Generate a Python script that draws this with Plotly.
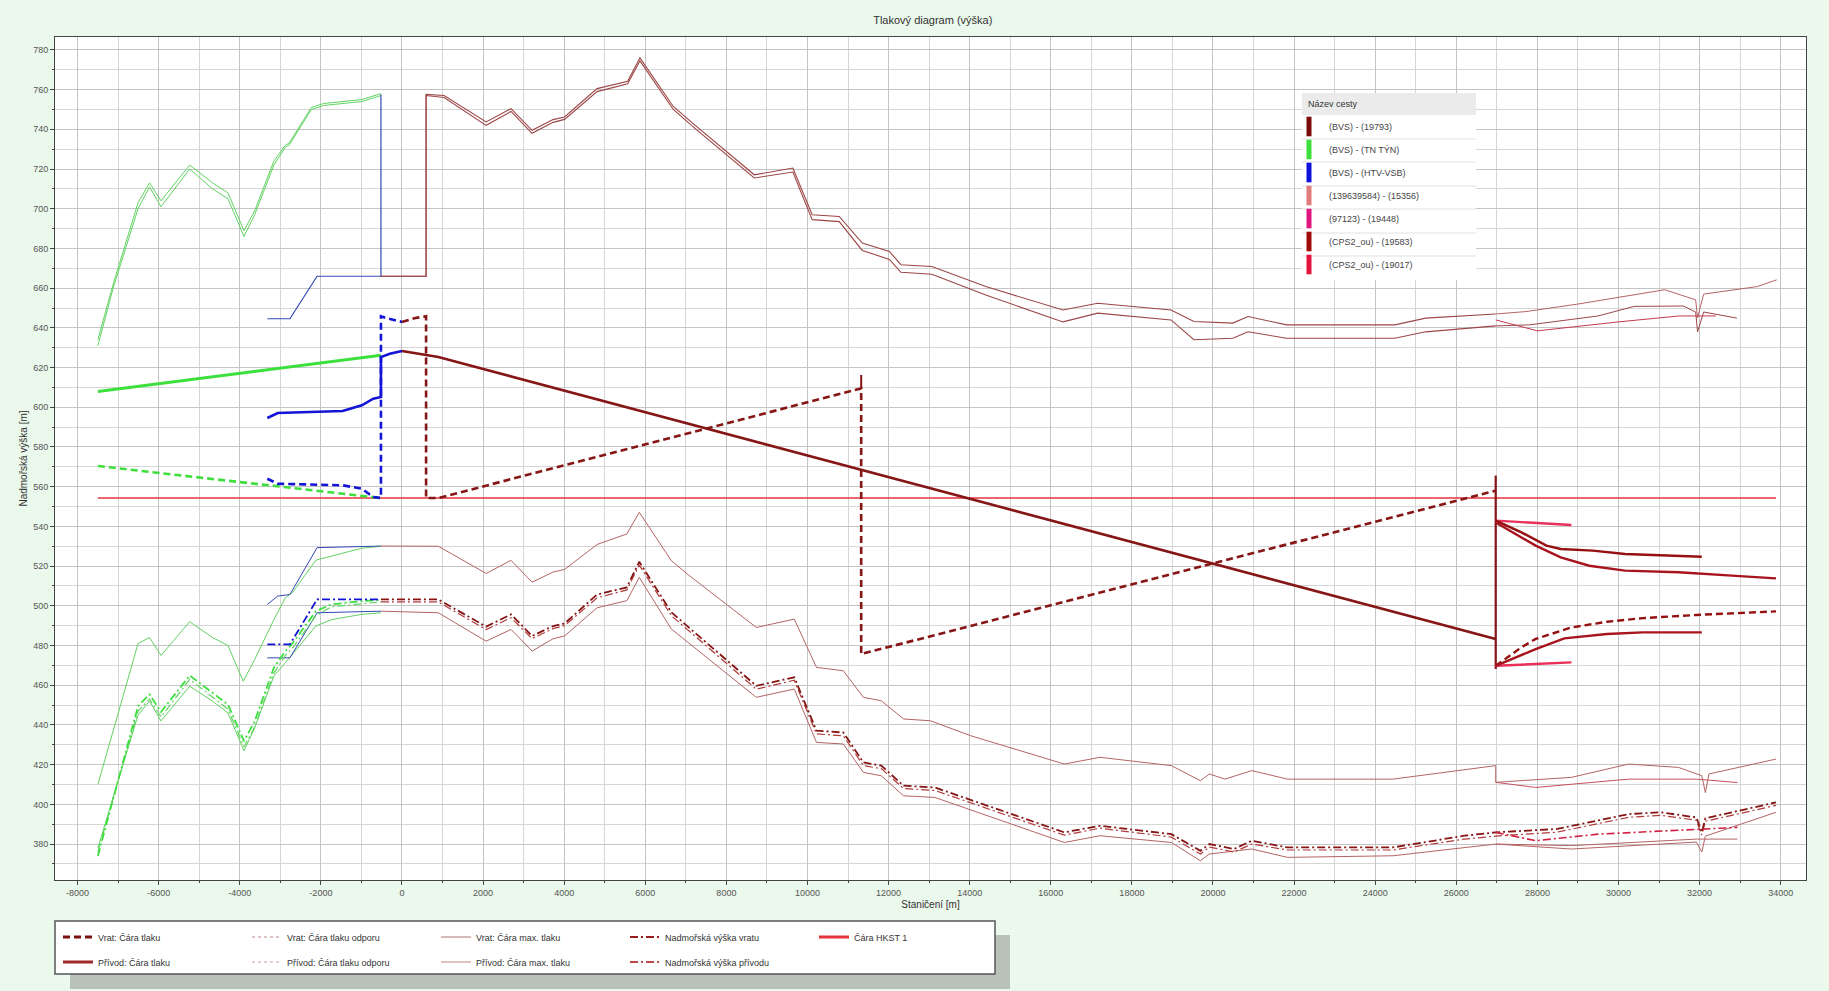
import plotly.graph_objects as go

# ---------------- data ----------------
X_TICK_VALS = [-8000, -6000, -4000, -2000, 0, 2000, 4000, 6000, 8000, 10000, 12000, 14000, 16000,
               18000, 20000, 22000, 24000, 26000, 28000, 30000, 32000, 34000]
X_TICK_TEXT = ['-8000', '-6000', '-4000', '-2000', '0', '2000', '4000', '6000', '8000', '10000', '12000',
               '14000', '16000', '18000', '20000', '22000', '24000', '26000', '28000', '30000', '32000', '34000']

ROUTE_TITLE = 'Název cesty'
ROUTE_NAMES = ['(BVS) - (19793)', '(BVS) - (TN TÝN)', '(BVS) - (HTV-VSB)', '(139639584) - (15356)',
               '(97123) - (19448)', '(CPS2_ou) - (19583)', '(CPS2_ou) - (19017)']
ROUTE_COLORS = ['#7d0a0a', '#3ddf3d', '#1010dd', '#e27b7b', '#e0157f', '#a00a0a', '#e3143c']

STYLE_ROW1 = ['Vrat: Čára tlaku', 'Vrat: Čára tlaku odporu', 'Vrat: Čára max. tlaku',
              'Nadmořská výška vratu', 'Čára HKST 1']
STYLE_ROW2 = ['Přívod: Čára tlaku', 'Přívod: Čára tlaku odporu', 'Přívod: Čára max. tlaku',
              'Nadmořská výška přívodu']

# HKST line
HKST_X = [-7500, 33884]
HKST_Y = [554.3, 554.3]

# (BVS) - (TN TÝN)  green
TN_MAX_X = [-7500, -7123, -6509, -6226, -5943, -5236, -4670, -4292, -3896, -3632, -3160, -2877, -2783,
            -2236, -1934, -991, -519]
TN_MAX_VRAT_Y = [634, 662, 703, 713, 704, 722, 713, 708, 689, 699, 724, 732, 733, 751, 753, 755, 758]
TN_MAX_PRIVOD_Y = [631, 660, 700, 711, 701, 720, 710, 705, 686, 697, 722, 731, 732, 750, 752, 754, 757]
TN_TLAK_PRIVOD_X = [-7500, -519]
TN_TLAK_PRIVOD_Y = [608, 626.2]
TN_TLAK_VRAT_X = [-7500, -708, -519]
TN_TLAK_VRAT_Y = [570.4, 554.8, 554.3]
TN_ODPOR_X = [-7500, -6509, -6226, -5943, -5236, -4670, -4292, -3915, -3632, -3160, -2877, -2689,
              -2123, -991, -519]
TN_ODPOR_VRAT_Y = [410, 481, 484, 475, 492, 484, 480, 462, 473, 493, 504, 507, 523, 529, 530]
TN_ELEV_X = [-7500, -6509, -6226, -5943, -5236, -4670, -4292, -3896, -3632, -3160, -2877, -2689,
             -2123, -1745, -991, -519]
TN_ELEV_VRAT_Y = [374, 449.5, 455.4, 446.5, 464.9, 456.2, 450.3, 431.9, 441.9, 468.8, 477.2, 481.4,
                  497.3, 500.7, 502.4, 502.9]
TN_ELEV_PRIVOD_Y = [376, 447, 453, 444, 463, 454, 448, 429, 439, 466, 475, 479, 495, 499.5, 501, 502]
TN_ODPOR_PRIVOD_Y = [378, 445, 452, 442, 459.5, 452, 446, 427, 438.6, 464.6, 471.3, 476, 489.8, 493,
                     495.7, 496.5]

# (BVS) - (HTV-VSB)  blue
HTV_MAX_X = [-3321, -2764, -2094, -519, -519]
HTV_MAX_Y = [644.6, 644.6, 666, 666, 757.6]
HTV_TLAK_PRIVOD_X = [-3321, -3066, -1462, -991, -708, -538, -519, -519, -300, 0]
HTV_TLAK_PRIVOD_Y = [594.6, 597.1, 598.1, 601, 604.3, 605.2, 605.2, 625.3, 627, 628.3]
HTV_TLAK_VRAT_X = [-3321, -3066, -1462, -991, -708, -538, -519, -519, -330, 0]
HTV_TLAK_VRAT_Y = [564, 561.5, 560.7, 559, 554.8, 554.3, 554.3, 645.8, 644.6, 643]
HTV_ODPOR_X = [-3321, -3066, -2764, -2094, -519]
HTV_ODPOR_VRAT_Y = [500.7, 504.9, 505.7, 529.3, 530.1]
HTV_ELEV_X = [-3321, -2764, -2094, -519]
HTV_ELEV_Y = [480.6, 480.6, 503.2, 503.2]
HTV_ODPOR_PRIVOD_Y = [473.8, 473.8, 496.5, 497.3]

# (BVS) - (19793)  dark red
R_MAX_X = [-519, 594, 594, 1038, 2075, 2689, 3208, 3726, 4009, 4811, 5566, 5868, 6690, 7166, 8688, 9640,
           10116, 10782, 11352, 12020, 12304, 13066, 14397, 16301, 17156, 18965, 19530, 20487, 20866,
           21816, 24484, 25243, 26972]
R_MAX_VRAT_Y = [666, 666, 757.6, 757, 743.7, 750.4, 739.5, 744.9, 746.2, 760.5, 764.2, 776, 751.5, 743.1,
                717.1, 720.5, 697, 696.1, 682.7, 678.5, 671.8, 670.9, 660.8, 649, 652.4, 649, 643.2,
                642.4, 645.7, 641.5, 641.5, 644.9, 647]
R_MAX_PRIVOD_Y = [666, 666, 757, 756, 742, 749, 738, 743.5, 745, 759, 763, 774.5, 750, 741.5, 715.5,
                  718.5, 694.5, 693.5, 679, 674.5, 668, 667, 656.5, 643, 647.4, 644, 634, 634.8, 638,
                  634.8, 634.8, 638, 641]
R_TLAK_PRIVOD_X = [0, 896, 26972]
R_TLAK_PRIVOD_Y = [628.3, 625.3, 483.3]
R_TLAK_VRAT_X = [0, 330, 594, 594, 896, 11324, 11324, 26972]
R_TLAK_VRAT_Y = [643, 645, 645.8, 554.3, 554.3, 609.5, 475.7, 558]
R_TICK_X = [11324, 11324]
R_TICK_Y = [616.3, 609.5]
JUNCTION_X = [26972, 26972]
JUNCTION_Y = [565.6, 468.2]
R_ODPOR_X = [-519, 896, 2075, 2689, 3208, 3726, 4009, 4811, 5544, 5852, 6644, 7086, 8738, 9673, 10222,
             10883, 11379, 11820, 12370, 13031, 14020, 16333, 17213, 18974, 19690, 19911, 20296, 20957,
             21837, 24436, 26972, 26972, 28838, 30250, 31482, 32054, 32143, 32230, 33884]
R_ODPOR_VRAT_Y = [530.1, 530, 516.3, 522.9, 511.9, 517, 518.3, 530.9, 536.2, 547.1, 522.7, 515.2, 489.1,
                  493.3, 469, 467.3, 453.9, 452.2, 443, 442.1, 434.6, 420.3, 423.7, 419.5, 411.9, 415.3,
                  412.7, 417, 412.7, 412.7, 419.5, 411.1, 413.6, 420.3, 418.6, 414.4, 405.9, 415.3, 422.8]
R_ELEV_X = [-519, 896, 2075, 2689, 3208, 3726, 4009, 4811, 5544, 5852, 6644, 8738, 9673, 10222, 10883,
            11379, 11820, 12370, 13141, 16333, 17213, 18974, 19690, 19911, 20516, 20957, 21837, 24436,
            26197, 26972, 28485, 30250, 31042, 31921, 32054, 32143, 33884]
R_ELEV_VRAT_Y = [503.2, 503.2, 489.5, 495.7, 484.8, 489.8, 491.1, 505.7, 509.3, 522.2, 496.7, 459.7, 464,
                 437.1, 436.2, 421.1, 419.5, 409.4, 408.5, 385.9, 389.2, 385, 376.6, 380, 377.5, 381.7,
                 378.3, 378.3, 384.2, 385.9, 387.6, 395.1, 396, 393.4, 385.9, 393, 401]
R_ELEV_PRIVOD_Y = [502, 502, 488, 494, 483.5, 488.5, 490, 504, 508, 520.5, 495, 458, 462.5, 435.5, 434.5,
                   419.5, 418, 408, 407, 384.5, 388, 383.5, 375, 378.5, 376, 380, 377, 377, 382.5, 384,
                   386, 393.5, 394.5, 392, 384.5, 391.5, 399.5]
R_ODPOR_PRIVOD_X = [-519, 896, 2075, 2689, 3208, 3726, 4009, 4811, 5544, 5852, 6644, 8738, 9673, 10222,
                    10883, 11379, 11820, 12370, 13141, 16333, 17213, 18974, 19690, 19911, 20957, 21837,
                    24436, 26972, 28838, 31921, 32933]
R_ODPOR_PRIVOD_Y = [497.3, 496.5, 482.2, 488.1, 477.2, 483.4, 484.8, 499, 502.6, 514.3, 488.3, 453.9,
                    458.1, 431.2, 430.4, 416.1, 414.4, 404.3, 403.5, 380.8, 384.2, 380.8, 371.6, 375,
                    377.5, 373.3, 374.1, 380, 379.2, 382.5, 382.5]

# branches after the junction (CPS2_ou, 97123 ...)
BR_MAX1_X = [26972, 27717, 29000, 30383, 31142, 31903, 31950, 32100, 33425, 33902]
BR_MAX1_Y = [647, 648.2, 652, 656.6, 659.2, 654.1, 645, 657, 660.8, 664.2]
BR_MAX2_X = [26972, 27800, 29500, 30383, 31600, 31903, 31950, 32100, 32921]
BR_MAX2_Y = [641, 641.5, 646, 650.8, 651, 648, 638, 648, 644.9]
BR_MAX3_X = [26972, 28000, 30000, 31500, 32400]
BR_MAX3_Y = [644, 638.5, 643, 646, 646]
BR_ODPOR_X = [26972, 27958, 30250, 31921, 32933]
BR_ODPOR_Y = [411.1, 408.5, 412.7, 412.7, 411]
BR_ELEV_X = [26972, 27958, 29500, 31921, 32933]
BR_ELEV_Y = [385.9, 381.7, 385, 387.6, 388.4]
BR_LOW_X = [26972, 28838, 31921, 32054, 32143, 33884]
BR_LOW_Y = [380, 377.5, 381, 376, 384, 396]

BUP_SHORT_X = [26972, 28838]
BUP_SHORT_Y = [542.9, 540.7]
BUP1_X = [26972, 27606, 28223, 28575, 29368, 30160, 32054]
BUP1_Y = [542.9, 537, 530.3, 528.6, 527.8, 526.1, 524.7]
BUP2_X = [26972, 27519, 27958, 28575, 29280, 30160, 31482, 32800, 33884]
BUP2_Y = [542, 535.4, 530.3, 524.4, 520.2, 517.7, 516.9, 515.2, 513.8]
BLO_SHORT_X = [26972, 28838]
BLO_SHORT_Y = [469.8, 471.5]
BLO1_X = [26972, 27606, 27958, 28838, 29718, 30602, 31921, 33884]
BLO1_Y = [469.8, 479.1, 483.3, 489.1, 492, 493.8, 495.4, 497.2]
BLO2_X = [26972, 27958, 28663, 29718, 30602, 32054]
BLO2_Y = [469.8, 478.2, 483.6, 485.8, 486.6, 486.6]

# ---------------- styles ----------------
DARK = '#861515'
DARK_T = '#9c4646'
ROSY_T = '#b46464'
GREEN = '#3ddf3d'
GREEN_T = '#62d262'
BLUE = '#1414d6'
BLUE_T = '#3448b4'
HKST = '#e4343c'
DASH = '7px,4px'
DASHDOT = '8px,3px,2px,3px'
FONT = 'Liberation Sans'

fig = go.Figure()


def line(x, y, color, width, dash='solid'):
    fig.add_trace(go.Scatter(x=x, y=y, mode='lines', line=dict(color=color, width=width, dash=dash),
                             showlegend=False, hoverinfo='skip'))


# thin lines
line(TN_MAX_X, TN_MAX_VRAT_Y, GREEN_T, 1)
line(TN_MAX_X, TN_MAX_PRIVOD_Y, GREEN_T, 1)
line(TN_ODPOR_X, TN_ODPOR_VRAT_Y, GREEN_T, 1)
line(TN_ELEV_X, TN_ODPOR_PRIVOD_Y, GREEN_T, 1)
line(HTV_MAX_X, HTV_MAX_Y, BLUE_T, 1.2)
line(HTV_ODPOR_X, HTV_ODPOR_VRAT_Y, BLUE_T, 1)
line(HTV_ELEV_X, HTV_ODPOR_PRIVOD_Y, BLUE_T, 1)
line(R_MAX_X, R_MAX_VRAT_Y, DARK_T, 1.1)
line(R_MAX_X, R_MAX_PRIVOD_Y, DARK_T, 1.1)
line(BR_MAX1_X, BR_MAX1_Y, ROSY_T, 1)
line(BR_MAX2_X, BR_MAX2_Y, DARK_T, 1)
line(BR_MAX3_X, BR_MAX3_Y, '#c43a50', 1)
line(R_ODPOR_X, R_ODPOR_VRAT_Y, ROSY_T, 1)
line(R_ODPOR_PRIVOD_X, R_ODPOR_PRIVOD_Y, ROSY_T, 1)
line(BR_ODPOR_X, BR_ODPOR_Y, '#c45060', 1)
line(BR_LOW_X, BR_LOW_Y, ROSY_T, 1)

# elevation (dash-dot)
line(TN_ELEV_X, TN_ELEV_PRIVOD_Y, GREEN_T, 1.2, DASHDOT)
line(TN_ELEV_X, TN_ELEV_VRAT_Y, GREEN, 1.8, DASHDOT)
line(HTV_ELEV_X, HTV_ELEV_Y, BLUE, 1.8, DASHDOT)
line(R_ELEV_X, R_ELEV_PRIVOD_Y, '#b03a3a', 1.2, DASHDOT)
line(R_ELEV_X, R_ELEV_VRAT_Y, DARK, 1.8, DASHDOT)
line(BR_ELEV_X, BR_ELEV_Y, '#d02040', 1.6, DASHDOT)

# HKST
line(HKST_X, HKST_Y, HKST, 1.7)

# pressure lines
line(TN_TLAK_PRIVOD_X, TN_TLAK_PRIVOD_Y, GREEN, 3)
line(TN_TLAK_VRAT_X, TN_TLAK_VRAT_Y, GREEN, 2.6, DASH)
line(HTV_TLAK_PRIVOD_X, HTV_TLAK_PRIVOD_Y, BLUE, 2.6)
line(HTV_TLAK_VRAT_X, HTV_TLAK_VRAT_Y, BLUE, 2.6, DASH)
line(R_TLAK_PRIVOD_X, R_TLAK_PRIVOD_Y, DARK, 2.6)
line(R_TLAK_VRAT_X, R_TLAK_VRAT_Y, DARK, 2.6, DASH)
line(R_TICK_X, R_TICK_Y, DARK, 2)
line(JUNCTION_X, JUNCTION_Y, DARK, 2.2)
line(BUP_SHORT_X, BUP_SHORT_Y, '#e8305a', 2.4)
line(BUP1_X, BUP1_Y, '#951010', 2.4)
line(BUP2_X, BUP2_Y, '#a8141e', 2.4)
line(BLO_SHORT_X, BLO_SHORT_Y, '#e8305a', 2.4)
line(BLO1_X, BLO1_Y, '#951010', 2.4, DASH)
line(BLO2_X, BLO2_Y, '#a8141e', 2.4)

# ---------------- legends ----------------
for i, (name, col) in enumerate(zip(ROUTE_NAMES, ROUTE_COLORS)):
    fig.add_trace(go.Scatter(x=[None], y=[None], mode='markers', name=name, legend='legend',
                             legendgroup='r%d' % i,
                             marker=dict(symbol='line-ns', size=14, color=col,
                                         line=dict(color=col, width=8))))

row1_styles = [dict(color='#7d1010', width=3, dash=DASH), dict(color='#c08888', width=1, dash='dot'),
               dict(color='#b07070', width=1), dict(color='#9a1c1c', width=2, dash=DASHDOT),
               dict(color=HKST, width=3)]
row2_styles = [dict(color='#a02828', width=3), dict(color='#c89898', width=1, dash='dot'),
               dict(color='#c08080', width=1), dict(color='#c04848', width=1.8, dash=DASHDOT)]
for name, st in zip(STYLE_ROW1, row1_styles):
    fig.add_trace(go.Scatter(x=[None], y=[None], mode='lines', name=name, legend='legend2', line=st))
for name, st in zip(STYLE_ROW2, row2_styles):
    fig.add_trace(go.Scatter(x=[None], y=[None], mode='lines', name=name, legend='legend3', line=st))

# geometry helpers (paper fractions) for decorative boxes
PH = 843.0
def py(full_y):
    return (880.0 - full_y) / PH
def px(full_x):
    return (full_x - 55.0) / 1751.0

shapes = []
# bottom legend box with shadow
shapes.append(dict(type='rect', xref='paper', yref='paper', x0=px(70), x1=px(1010), y0=py(989), y1=py(935),
                   fillcolor='#b9c2b9', line=dict(width=0), layer='above'))
shapes.append(dict(type='rect', xref='paper', yref='paper', x0=px(55), x1=px(995), y0=py(974), y1=py(921),
                   fillcolor='white', line=dict(color='#555', width=1.5), layer='above'))
# route legend box
shapes.append(dict(type='rect', xref='paper', yref='paper', x0=px(1302), x1=px(1476), y0=py(280), y1=py(93),
                   fillcolor='white', line=dict(width=0), layer='above'))
shapes.append(dict(type='rect', xref='paper', yref='paper', x0=px(1302), x1=px(1476), y0=py(115), y1=py(93),
                   fillcolor='#ebebeb', line=dict(width=0), layer='above'))
for yy in [139, 162, 186, 209, 233, 256]:
    shapes.append(dict(type='line', xref='paper', yref='paper', x0=px(1302), x1=px(1476), y0=py(yy), y1=py(yy),
                       line=dict(color='#e2e2e2', width=1), layer='above'))

annotations = [dict(text=ROUTE_TITLE, xref='paper', yref='paper', x=px(1306), y=py(104), xanchor='left',
                    yanchor='middle', showarrow=False, font=dict(family=FONT, size=9, color='#333'))]

fig.update_layout(
    width=1829, height=991,
    margin=dict(l=55, r=23, t=37, b=111),
    paper_bgcolor='#ebf8ec',
    plot_bgcolor='white',
    font=dict(family=FONT, size=9, color='#444'),
    title=dict(text='Tlakový diagram (výška)', x=0.51, xanchor='center', y=1 - 20 / 991, yanchor='middle',
               font=dict(family=FONT, size=11, color='#333')),
    xaxis=dict(range=[-8557, 34624], tickmode='array', tickvals=X_TICK_VALS, ticktext=X_TICK_TEXT,
               showgrid=True, gridcolor='#c4c4c4', gridwidth=1, zeroline=False,
               showline=True, linecolor='#444', linewidth=1, mirror=True,
               ticks='outside', ticklen=4, tickcolor='#444', tickfont=dict(size=9, color='#555'),
               minor=dict(tickmode='linear', tick0=0, dtick=1000, showgrid=True, gridcolor='#d6d6d6',
                          ticks='outside', ticklen=2, tickcolor='#444'),
               title=dict(text='Staničení [m]', font=dict(size=10, color='#333'), standoff=4)),
    yaxis=dict(range=[361.9, 786.5], tick0=0, dtick=20,
               showgrid=True, gridcolor='#c4c4c4', gridwidth=1, zeroline=False,
               showline=True, linecolor='#444', linewidth=1, mirror=True,
               ticks='outside', ticklen=4, tickcolor='#444', tickfont=dict(size=9, color='#555'),
               minor=dict(tick0=0, dtick=10, showgrid=True, gridcolor='#d6d6d6',
                          ticks='outside', ticklen=2, tickcolor='#444'),
               title=dict(text='Nadmořská výška [m]', font=dict(size=10, color='#333'), standoff=3)),
    legend=dict(x=px(1289), y=py(112), xanchor='left', yanchor='top', bgcolor='rgba(0,0,0,0)',
                traceorder='grouped', tracegroupgap=4, itemwidth=30,
                font=dict(family=FONT, size=9, color='#444')),
    legend2=dict(orientation='h', x=px(58), y=py(937), xanchor='left', yanchor='middle',
                 bgcolor='rgba(0,0,0,0)', entrywidth=144, itemwidth=30,
                 font=dict(family=FONT, size=9, color='#333')),
    legend3=dict(orientation='h', x=px(58), y=py(962), xanchor='left', yanchor='middle',
                 bgcolor='rgba(0,0,0,0)', entrywidth=144, itemwidth=30,
                 font=dict(family=FONT, size=9, color='#333')),
    shapes=shapes,
    annotations=annotations,
)

fig.write_html('out.html', config={'displayModeBar': False},
               post_script="document.body.style.margin='0';document.body.style.overflow='hidden';")
